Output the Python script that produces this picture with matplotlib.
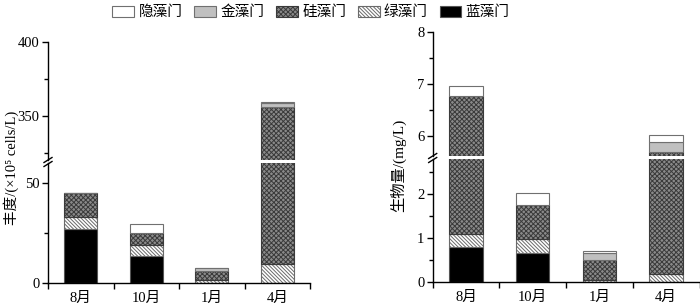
import matplotlib
matplotlib.use("Agg")
import matplotlib.pyplot as plt
from matplotlib.lines import Line2D
from matplotlib.ticker import FixedLocator
import numpy as np

plt.rcParams['font.family'] = ['Liberation Serif', 'Noto Sans CJK SC']
plt.rcParams['hatch.linewidth'] = 0.7

months = ['8月', '10月', '1月', '4月']
phyla = ['隐藻门', '金藻门', '硅藻门', '绿藻门', '蓝藻门']

# abundance (x10^5 cells/L), bottom-to-top order: 蓝, 绿, 硅, 金, 隐
ab_lan = [27.0, 13.7, 0.0, 0.0]
ab_lv = [6.0, 5.6, 1.7, 9.5]
ab_gui = [12.0, 5.7, 4.3, 346.5]
ab_jin = [0.3, 0.3, 1.5, 2.5]
ab_yin = [0.0, 4.3, 0.2, 1.0]

# biomass (mg/L)
bm_lan = [0.80, 0.66, 0.0, 0.0]
bm_lv = [0.29, 0.32, 0.05, 0.19]
bm_gui = [5.68, 0.78, 0.46, 5.50]
bm_jin = [0.0, 0.0, 0.16, 0.18]
bm_yin = [0.20, 0.28, 0.05, 0.14]

W, H = 700, 307
fig = plt.figure(figsize=(7, 3.07), dpi=100)


def fx(px):
    return px / W


def fy(py):
    return (H - py) / H


styles = {
    '蓝藻门': dict(facecolor='black', edgecolor='#555555', hatch=None),
    '绿藻门': dict(facecolor='white', edgecolor='#6a6a6a', hatch='\\\\\\\\\\\\\\\\\\'),
    '硅藻门': dict(facecolor='#8a8a8a', edgecolor='#3a3a3a', hatch='xxxxxxx'),
    '金藻门': dict(facecolor='#c0c0c0', edgecolor='#707070', hatch=None),
    '隐藻门': dict(facecolor='white', edgecolor='#707070', hatch=None),
}


def draw_stack(ax, series):
    x = np.arange(len(months)) + 0.5
    bottom = np.zeros(len(months))
    handles = {}
    for name, vals in series:
        st = styles[name]
        b = ax.bar(x, vals, 0.5, bottom=bottom, facecolor=st['facecolor'],
                   edgecolor=st['edgecolor'], hatch=st['hatch'], linewidth=0.8,
                   label=name)
        handles[name] = b
        bottom = bottom + np.array(vals)
    return handles


def style_axes(ax, lower):
    ax.spines['top'].set_visible(False)
    ax.spines['right'].set_visible(False)
    ax.spines['left'].set_linewidth(1.0)
    ax.tick_params(axis='y', direction='out', length=4, width=1.0, labelsize=10.5, pad=2)
    ax.tick_params(axis='y', which='minor', direction='out', length=3, width=1.0)
    ax.set_xlim(0, 4)
    if lower:
        ax.spines['bottom'].set_linewidth(1.0)
        ax.set_xticks(np.arange(4) + 0.5)
        ax.set_xticklabels(months, fontsize=10.5)
        ax.tick_params(axis='x', which='major', length=0, pad=6)
        ax.xaxis.set_minor_locator(FixedLocator([0, 1, 2, 3, 4]))
        ax.tick_params(axis='x', which='minor', direction='out', length=4, width=1.0)
    else:
        ax.spines['bottom'].set_visible(False)
        ax.set_xticks([])


def break_marks(xpx, ypx):
    for dy in (-2.0, 2.0):
        fig.add_artist(Line2D([fx(xpx - 4), fx(xpx + 4)],
                              [fy(ypx + dy + 2.5), fy(ypx + dy - 2.5)],
                              color='black', lw=1.0))


ab_series = [('蓝藻门', ab_lan), ('绿藻门', ab_lv), ('硅藻门', ab_gui),
             ('金藻门', ab_jin), ('隐藻门', ab_yin)]
bm_series = [('蓝藻门', bm_lan), ('绿藻门', bm_lv), ('硅藻门', bm_gui),
             ('金藻门', bm_jin), ('隐藻门', bm_yin)]

# ---- left panel ----
axL_lo = fig.add_axes([fx(48), fy(283.3), fx(310) - fx(48), fy(163.3) - fy(283.3)])
axL_hi = fig.add_axes([fx(48), fy(160), fx(310) - fx(48), fy(42.3) - fy(160)])
hnd = draw_stack(axL_lo, ab_series)
draw_stack(axL_hi, ab_series)
axL_lo.set_ylim(0, 60)
axL_hi.set_ylim(320, 400)
axL_lo.yaxis.set_major_locator(FixedLocator([0, 50]))
axL_lo.yaxis.set_minor_locator(FixedLocator([25]))
axL_hi.yaxis.set_major_locator(FixedLocator([350, 400]))
axL_hi.yaxis.set_minor_locator(FixedLocator([325, 375]))
style_axes(axL_lo, True)
style_axes(axL_hi, False)
break_marks(48, 162)
fig.text(fx(11), fy(168), '丰度/(×10⁵ cells/L)', rotation=90, ha='center',
         va='center', fontsize=10.5)

# ---- right panel ----
axR_lo = fig.add_axes([fx(432.7), fy(282.3), fx(699.5) - fx(432.7), fy(159.3) - fy(282.3)])
axR_hi = fig.add_axes([fx(432.7), fy(156.4), fx(699.5) - fx(432.7), fy(32.3) - fy(156.4)])
draw_stack(axR_lo, bm_series)
draw_stack(axR_hi, bm_series)
axR_lo.set_ylim(0, 2.8)
axR_hi.set_ylim(5.6, 8)
axR_lo.yaxis.set_major_locator(FixedLocator([0, 1, 2]))
axR_lo.yaxis.set_minor_locator(FixedLocator([0.5, 1.5, 2.5]))
axR_hi.yaxis.set_major_locator(FixedLocator([6, 7, 8]))
axR_hi.yaxis.set_minor_locator(FixedLocator([6.5, 7.5]))
style_axes(axR_lo, True)
style_axes(axR_hi, False)
break_marks(432.7, 158)
fig.text(fx(398), fy(165), '生物量/(mg/L)', rotation=90, ha='center',
         va='center', fontsize=11)

# ---- legend ----
order = ['隐藻门', '金藻门', '硅藻门', '绿藻门', '蓝藻门']
fig.legend([hnd[n] for n in order], order, loc='upper center',
           bbox_to_anchor=(fx(311), 1.015), ncol=5, frameon=False, fontsize=10.5,
           handlelength=1.5, handleheight=0.75, handletextpad=0.3, columnspacing=0.8,
           borderpad=0.2)

fig.savefig('out.png', dpi=100)
